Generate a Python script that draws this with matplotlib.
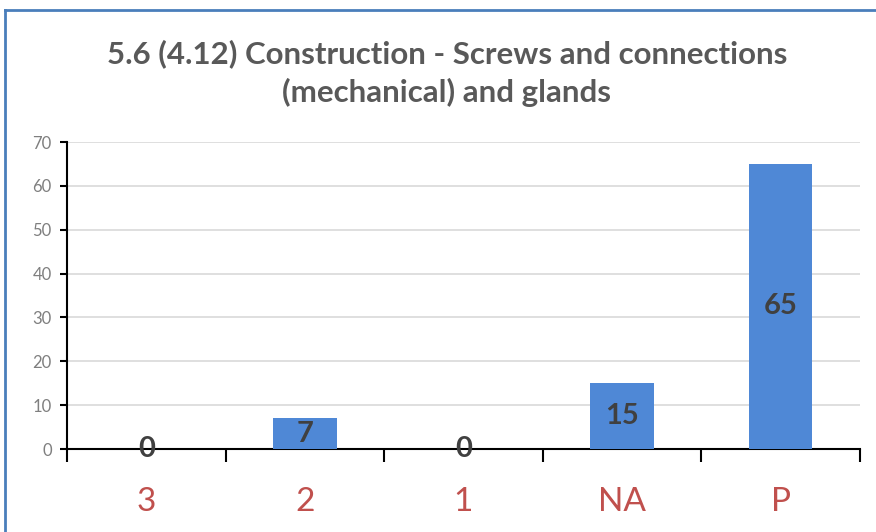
import matplotlib
matplotlib.use("Agg")
import matplotlib.pyplot as plt
from matplotlib.lines import Line2D

# ── Data ──────────────────────────────────────────────────────────────────────
categories = ["3", "2", "1", "NA", "P"]
counts     = [0, 7, 0, 15, 65]
title      = "5.6 (4.12) Construction - Screws and connections\n(mechanical) and glands"

BAR_COLOR   = "#4f88d6"
LABEL_COLOR = "#404040"
TICK_RED    = "#c0504d"
FONT        = ["Lato", "DejaVu Sans"]

plt.rcParams["font.family"] = FONT

fig = plt.figure(figsize=(8.76, 5.32), dpi=100)
ax = fig.add_axes([0.0765, 0.156, 0.905, 0.577])

x = range(len(categories))
bars = ax.bar(x, counts, width=0.4, color=BAR_COLOR, zorder=3)

# value labels, centred in the bars
for xi, v in zip(x, counts):
    ax.text(xi, v / 2, str(v), ha="center", va="center", fontsize=21,
            fontweight="bold", color=LABEL_COLOR, zorder=4)

ax.set_xlim(-0.5, len(categories) - 0.5)
ax.set_ylim(0, 70)
ax.set_yticks(range(0, 71, 10))
ax.yaxis.grid(True, color="#d9d9d9", lw=1.2, zorder=0)
ax.set_axisbelow(True)

for s in ["top", "right"]:
    ax.spines[s].set_visible(False)
ax.spines["left"].set_color("black")
ax.spines["bottom"].set_color("black")
ax.spines["left"].set_linewidth(1.5)
ax.spines["bottom"].set_linewidth(1.5)

ax.tick_params(axis="y", labelsize=12, labelcolor="#7f7f7f", length=5,
               width=1.5, direction="out", pad=6)
# category ticks between bars, labels centred
ax.set_xticks([i - 0.5 for i in range(len(categories) + 1)], minor=False)
ax.set_xticklabels([])
ax.tick_params(axis="x", which="major", length=9, width=1.5, direction="out")
ax.set_xticks(list(x), minor=True)
ax.set_xticklabels(categories, minor=True)
ax.tick_params(axis="x", which="minor", length=0, labelsize=24,
               labelcolor=TICK_RED, pad=27)

fig.text(0.51, 0.862, title, ha="center", va="center", fontsize=22.5,
         fontweight="bold", color="#595959", linespacing=1.4)

# blue frame of the chart area (cropped on right/bottom)
frame = "#4a7ebb"
fig.add_artist(Line2D([0.006, 0.006], [0, 0.981], transform=fig.transFigure,
                      color=frame, lw=2))
fig.add_artist(Line2D([0.006, 1], [0.981, 0.981], transform=fig.transFigure,
                      color=frame, lw=2))

fig.savefig("out.png", dpi=100)
